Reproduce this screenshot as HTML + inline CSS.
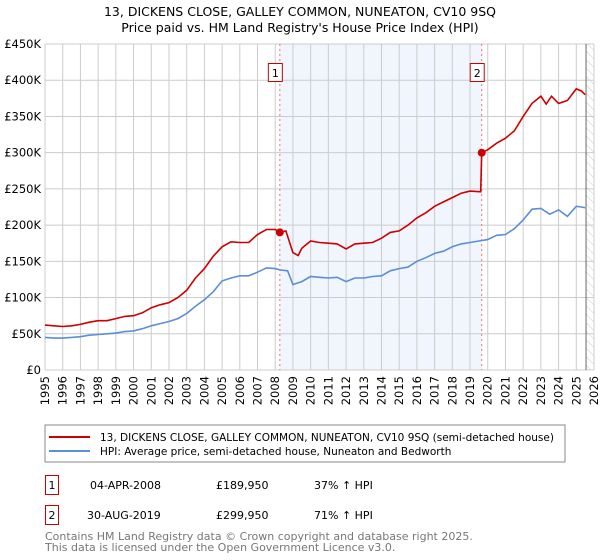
<!DOCTYPE html>
<html><head><meta charset="utf-8"><style>
body{margin:0;background:#fff;font-family:"DejaVu Sans","Liberation Sans",sans-serif;}
svg{display:block}
</style></head><body>
<svg id="c" width="600" height="560" xmlns="http://www.w3.org/2000/svg">
<defs><pattern id="hatch" width="6" height="6" patternUnits="userSpaceOnUse" patternTransform="rotate(-45)"><line x1="0" y1="0" x2="0" y2="6" stroke="#ccc" stroke-width="1"/></pattern></defs>
<text x="300" y="16" text-anchor="middle" font-size="12.5" fill="#000">13, DICKENS CLOSE, GALLEY COMMON, NUNEATON, CV10 9SQ</text>
<text x="300" y="32" text-anchor="middle" font-size="12.5" fill="#000">Price paid vs. HM Land Registry's House Price Index (HPI)</text>
<g id="plot"></g>
<rect x="45" y="425" width="520" height="37" fill="#fff" stroke="#888"/>
<line x1="49" y1="437" x2="90" y2="437" stroke="#cc0000" stroke-width="2"/>
<text x="100" y="441" font-size="10.5">13, DICKENS CLOSE, GALLEY COMMON, NUNEATON, CV10 9SQ (semi-detached house)</text>
<line x1="49" y1="451" x2="90" y2="451" stroke="#5b8fd4" stroke-width="2"/>
<text x="100" y="455" font-size="10.5">HPI: Average price, semi-detached house, Nuneaton and Bedworth</text>
<g font-size="11">
<rect x="45.5" y="475.5" width="13" height="19" fill="#fff" stroke="#cc0000"/>
<text x="52" y="489" text-anchor="middle">1</text>
<text x="90" y="489">04-APR-2008</text>
<text x="216" y="489">£189,950</text>
<text x="314" y="489">37% ↑ HPI</text>
<rect x="45.5" y="505.5" width="13" height="19" fill="#fff" stroke="#cc0000"/>
<text x="52" y="519" text-anchor="middle">2</text>
<text x="87" y="519">30-AUG-2019</text>
<text x="216" y="519">£299,950</text>
<text x="314" y="519">71% ↑ HPI</text>
</g>
<text x="45" y="540" font-size="11" fill="#777">Contains HM Land Registry data © Crown copyright and database right 2025.</text>
<text x="45" y="551" font-size="11" fill="#777">This data is licensed under the Open Government Licence v3.0.</text>
</svg>
<script>
const hpiYears=[1995,1995.5,1996,1996.5,1997,1997.5,1998,1998.5,1999,1999.5,2000,2000.5,2001,2001.5,2002,2002.5,2003,2003.5,2004,2004.5,2005,2005.5,2006,2006.5,2007,2007.5,2008,2008.3,2008.7,2009,2009.5,2010,2010.5,2011,2011.5,2012,2012.5,2013,2013.5,2014,2014.5,2015,2015.5,2016,2016.5,2017,2017.5,2018,2018.5,2019,2019.5,2020,2020.5,2021,2021.5,2022,2022.5,2023,2023.5,2024,2024.5,2025,2025.3,2025.5];
const hpiValues=[45,44,44,45,46,48,49,50,51,53,54,57,61,64,67,71,78,88,97,108,123,127,130,130,135,141,140,138,137,118,122,129,128,127,128,122,127,127,129,130,137,140,142,150,155,161,164,170,174,176,178,180,186,187,195,207,222,223,215,221,212,226,225,224];
const priceYears=[1995,1995.5,1996,1996.5,1997,1997.5,1998,1998.5,1999,1999.5,2000,2000.5,2001,2001.5,2002,2002.5,2003,2003.5,2004,2004.5,2005,2005.5,2006,2006.5,2007,2007.5,2008,2008.26,2008.6,2009,2009.3,2009.5,2010,2010.5,2011,2011.5,2012,2012.5,2013,2013.5,2014,2014.5,2015,2015.5,2016,2016.5,2017,2017.5,2018,2018.5,2019,2019.6,2019.66,2020,2020.5,2021,2021.5,2022,2022.5,2023,2023.3,2023.6,2024,2024.5,2025,2025.3,2025.5];
const priceValues=[62,61,60,61,63,66,68,68,71,74,75,79,86,90,93,100,110,127,140,157,170,177,176,176,187,194,194,190,192,162,158,168,178,176,175,174,167,174,175,176,182,190,192,200,210,217,226,232,238,244,247,246,300,304,313,320,330,350,368,378,367,378,368,372,388,385,380];
const saleYears=[2008.26,2019.66];
const saleValues=[189.95,299.95];
const saleLabels=["1","2"];
const yTicks=[0,50,100,150,200,250,300,350,400,450];
const yTickLabels=["£0","£50K","£100K","£150K","£200K","£250K","£300K","£350K","£400K","£450K"];
const xTicks=[1995,1996,1997,1998,1999,2000,2001,2002,2003,2004,2005,2006,2007,2008,2009,2010,2011,2012,2013,2014,2015,2016,2017,2018,2019,2020,2021,2022,2023,2024,2025,2026];

const NS="http://www.w3.org/2000/svg";
const L=45,R=594,T=44,B=370;
const x=v=>L+(v-1995)/31*(R-L);
const y=v=>B-v/450*(B-T);
const g=document.getElementById('plot');
function mk(t,a){const e=document.createElementNS(NS,t);for(const k in a)e.setAttribute(k,a[k]);g.appendChild(e);return e;}
let e;
e=mk('rect',{x:x(saleYears[0]),y:T,width:x(saleYears[1])-x(saleYears[0]),height:B-T,fill:'#eef2fc',opacity:0.8});


e=mk('rect',{x:x(2025.55),y:T,width:R-x(2025.55),height:B-T,fill:'url(#hatch)'});


xTicks.forEach(t=>{e=mk('line',{x1:x(t),x2:x(t),y1:T,y2:B,stroke:'#ccc','stroke-width':1});


e=mk('text',{x:0,y:0,'font-size':11.5,'text-anchor':'end',transform:`translate(${x(t)+4},${B+6}) rotate(-90)`});e.textContent=t;

});
yTicks.forEach((t,i)=>{e=mk('line',{x1:L,x2:R,y1:y(t),y2:y(t),stroke:'#ccc','stroke-width':1});


e=mk('text',{x:L-4,y:y(t)+4,'font-size':11.5,'text-anchor':'end'});e.textContent=yTickLabels[i];

});
e=mk('line',{x1:x(2025.55),x2:x(2025.55),y1:T,y2:B,stroke:'#666','stroke-width':1});


saleYears.forEach((s,i)=>{e=mk('line',{x1:x(s),x2:x(s),y1:T,y2:B,stroke:'#f07070','stroke-dasharray':'2,3','stroke-width':1});

});
const pts=(xs,vs)=>xs.map((v,i)=>x(v).toFixed(1)+','+y(vs[i]).toFixed(1)).join(' ');
e=mk('polyline',{points:pts(hpiYears,hpiValues),fill:'none',stroke:'#5b8fd4','stroke-width':1.6});


e=mk('polyline',{points:pts(priceYears,priceValues),fill:'none',stroke:'#cc0000','stroke-width':1.6});


saleYears.forEach((s,i)=>{e=mk('circle',{cx:x(s),cy:y(saleValues[i]),r:4,fill:'#cc0000'});


e=mk('rect',{x:x(s)-11.5,y:63.5,width:14,height:18,fill:'#fff',stroke:'#cc0000'});


e=mk('text',{x:x(s)-4.5,y:77,'font-size':11,'text-anchor':'middle'});e.textContent=saleLabels[i];

});
</script>
</body></html>
